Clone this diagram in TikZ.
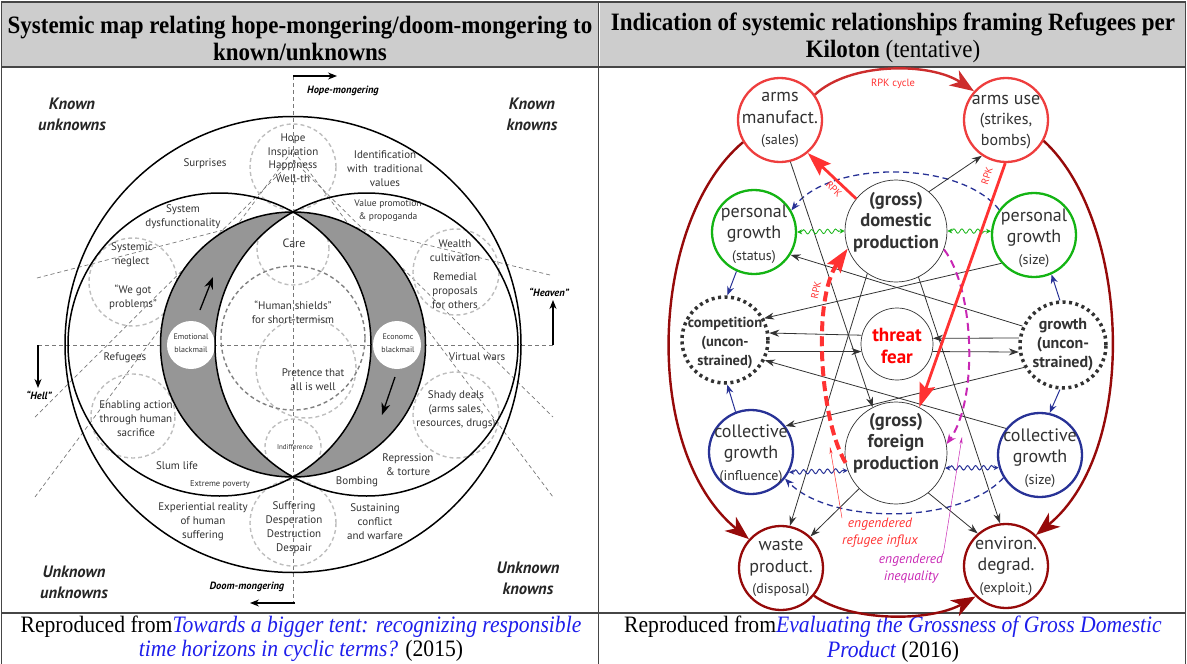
\documentclass[tikz,border=0pt]{standalone}
\usepackage{fontspec}
\setmainfont{Liberation Serif}
\newfontfamily\mapfont{PT Sans}
\newfontfamily\headfont[FakeStretch=0.92]{Liberation Serif}
\usetikzlibrary{arrows.meta}
\usetikzlibrary{decorations.pathmorphing}

\definecolor{hdrgray}{RGB}{205,205,205}
\definecolor{frameline}{RGB}{70,70,70}
\definecolor{cresgray}{RGB}{150,150,150}
\definecolor{halogray}{RGB}{190,190,190}
\definecolor{raygray}{RGB}{120,120,120}
\definecolor{inkgray}{RGB}{50,50,50}
\definecolor{armred}{RGB}{238,62,62}
\definecolor{rpkred}{RGB}{255,50,50}
\definecolor{cycred}{RGB}{205,45,45}
\definecolor{dred}{RGB}{150,10,10}
\definecolor{pgreen}{RGB}{20,180,20}
\definecolor{cblue}{RGB}{40,50,150}
\definecolor{ineqmag}{RGB}{200,40,180}
\definecolor{linkblue}{RGB}{30,30,235}

\newcommand\smtxt[1]{{\fontsize{14}{16}\selectfont #1}}

\tikzset{
% frame and headings
framerule/.style={draw=frameline, line width=1.2pt},
headtxt/.style={align=center, inner sep=0pt, font=\headfont\bfseries\fontsize{25}{27}\selectfont},
foottxt/.style={align=center, inner sep=0pt, font=\headfont\fontsize{23.5}{24.5}\selectfont},
% left map
ring/.style={draw=black, line width=1.5pt},
halo/.style={draw=halogray, line width=1.4pt, dash pattern=on 4pt off 3pt},
halodark/.style={halo, draw=gray},
ray/.style={draw=raygray, line width=0.7pt, dash pattern=on 4pt off 3pt},
pole/.style={-{Stealth[length=9pt,width=7pt]}, line width=1.1pt},
mtxt/.style={align=center, inner sep=0pt, text=inkgray, font=\mapfont\fontsize{11}{14}\selectfont},
smalltxt/.style={mtxt, font=\mapfont\fontsize{9.5}{13}\selectfont},
tinytxt/.style={mtxt, font=\mapfont\fontsize{8}{12.5}\selectfont},
corner/.style={mtxt, text=black!85, font=\mapfont\bfseries\itshape\fontsize{16.5}{21}\selectfont},
dirtxt/.style={mtxt, text=black, font=\mapfont\bfseries\itshape\fontsize{10.5}{12}\selectfont},
% right map
rnode/.style={circle, fill=white, line width=2.3pt, minimum size=84pt, inner sep=0pt},
armsn/.style={rnode, draw=armred},
persn/.style={rnode, draw=pgreen},
colln/.style={rnode, draw=cblue},
endn/.style={rnode, draw=dred},
prodn/.style={rnode, draw=inkgray, line width=0.7pt, minimum size=102pt},
fearn/.style={rnode, draw=inkgray, line width=0.7pt, minimum size=72pt},
uncn/.style={rnode, draw=inkgray, line width=3.5pt, dash pattern=on 3pt off 3.5pt, minimum size=86pt},
ntxt/.style={align=center, inner sep=0pt, text=inkgray, font=\mapfont\fontsize{18}{21.5}\selectfont},
btxt/.style={ntxt, font=\mapfont\bfseries\fontsize{18.5}{21.5}\selectfont},
fear/.style={ntxt, text=red, font=\mapfont\bfseries\fontsize{19}{22}\selectfont},
utxt/.style={ntxt, font=\mapfont\bfseries\fontsize{14.5}{19}\selectfont},
rpktxt/.style={inner sep=0pt, text=rpkred, font=\mapfont\fontsize{10}{12}\selectfont},
infltxt/.style={align=center, inner sep=0pt, text=rpkred, font=\mapfont\itshape\fontsize{13.5}{17}\selectfont},
ineqtxt/.style={infltxt, text=ineqmag},
flow/.style={-{Stealth[length=10pt,width=7pt]}, draw=inkgray, line width=0.8pt},
bflow/.style={-{Stealth[length=9pt,width=7pt]}, draw=cblue, line width=1pt},
gwave/.style={{Stealth[length=5pt,width=5pt]}-{Stealth[length=5pt,width=5pt]}, draw=pgreen, line width=0.8pt,
  decorate, decoration={snake, amplitude=2.2pt, segment length=8pt, pre length=4pt, post length=4pt}},
bwave/.style={gwave, draw=cblue, line width=1pt},
rpkflow/.style={-{Stealth[length=24pt,width=16pt,inset=4pt]}, draw=rpkred, line width=2.8pt},
rpkdash/.style={rpkflow, line width=4pt, dash pattern=on 10pt off 5pt},
magdash/.style={-{Stealth[length=10pt,width=8pt]}, draw=ineqmag, line width=2pt, dash pattern=on 8pt off 5pt},
thinred/.style={-{Stealth[length=7pt,width=3pt]}, draw=rpkred, line width=0.5pt},
thinmag/.style={thinred, draw=ineqmag},
cyc/.style={-{Stealth[length=24pt,width=18pt,inset=7pt]}, draw=dred, line width=2.4pt},
bdash/.style={-{Stealth[length=9pt,width=7pt]}, draw=cblue, line width=1.3pt, dash pattern=on 6pt off 4pt}
}

\begin{document}
\begin{tikzpicture}[x=1pt,y=1pt]
\useasboundingbox (0,0) rectangle (1187,-664);

% table frame
\fill[hdrgray] (2,-3) rectangle (597.5,-66.5);
\fill[hdrgray] (599.5,-3) rectangle (1185,-66.5);
\draw[framerule] (1.5,-664) -- (1.5,-2) -- (1185.5,-2) -- (1185.5,-664);
\draw[framerule] (598.5,-2) -- (598.5,-664);
\draw[framerule] (1.5,-67) -- (1185.5,-67);
\draw[framerule] (1.5,-613) -- (1185.5,-613);

\node[headtxt] (ltitle) at (300,-38) {Systemic map relating hope-mongering/doom-mongering to\\known/unknowns};
\node[headtxt] (rtitle) at (893,-38) {Indication of systemic relationships framing Refugees per\\Kiloton \mdseries(tentative)};

\node[foottxt] (lfoot) at (301,-639) {Reproduced from\textcolor{linkblue}{\itshape Towards a bigger tent: recognizing responsible}\\\textcolor{linkblue}{\itshape time horizons in cyclic terms?} (2015)};
\node[foottxt] (rfoot) at (893,-639) {Reproduced from\textcolor{linkblue}{\itshape Evaluating the Grossness of Gross Domestic}\\\textcolor{linkblue}{\itshape Product} (2016)};

% ---------- left map ----------
\draw[ray] (293,-76) -- (293,-603);
\draw[ray] (38,-345) -- (553,-345);
\draw[ray] (37,-278) -- (293,-212) -- (550,-275);
\draw[ray] (35,-417) -- (293,-160) -- (553,-417);
\draw[ray] (35,-497) -- (293,-150) -- (553,-497);

\draw[halo] (293,-167) circle (43);
\draw[halo] (293,-249) circle (36);
\draw[halo] (133,-282) circle (44);
\draw[halo] (456,-272) circle (43);
\draw[halo] (133,-416) circle (42);
\draw[halo] (456,-415) circle (43);
\draw[halo] (306,-368) circle (50);
\draw[halo] (293,-447) circle (28);
\draw[halo] (293,-523) circle (43);
\draw[halodark] (293,-338) circle (72);

% crescents
\fill[cresgray, even odd rule] (293,-344.5) circle (132.5)
  (293,-212) arc[start angle=119, end angle=241, radius=151.5]
  arc[start angle=-61, end angle=61, radius=151.5] -- cycle;
\fill[white] (191,-345) circle (24);
\fill[white] (397,-345) circle (24);

\draw[ring] (293,-344.5) circle (228);
\draw[ring] (219.5,-344.5) circle (151.5);
\draw[ring] (366.5,-344.5) circle (151.5);
\draw[ring] (293,-344.5) circle (132.5);

\draw[pole, line width=1.3pt, -{Stealth[length=12pt,width=9pt]}] (200,-310) -- (213,-277);
\draw[pole, line width=1.3pt, -{Stealth[length=12pt,width=9pt]}] (395,-377) -- (382,-415);
\draw[pole] (293,-76) -- (337,-76);
\draw[pole] (295,-603) -- (250,-603);
\draw[pole] (38,-345) -- (38,-388);
\draw[pole] (553,-345) -- (553,-300);

\node[dirtxt] (hopem) at (343,-91) {Hope-mongering};
\node[dirtxt] (doomm) at (247,-587) {Doom-mongering};
\node[dirtxt] (heaven) at (549,-292) {“Heaven”};
\node[dirtxt] (hell) at (39,-395) {“Hell”};
\node[corner] (kuu) at (72,-114) {Known\\unknowns};
\node[corner] (kk) at (532,-114) {Known\\knowns};
\node[corner] (uu) at (74,-582) {Unknown\\unknowns};
\node[corner] (uk) at (528,-578) {Unknown\\knowns};

\node[mtxt] (surp) at (205,-164) {Surprises};
\node[mtxt, font=\mapfont\fontsize{11}{13.5}\selectfont] (hope) at (293,-158) {Hope\\Inspiration\\Happiness\\Well-th};
\node[mtxt] (ident) at (385,-169) {Identification\\with\ \ traditional\\values};
\node[mtxt] (sysd) at (183,-217) {System\\dysfunctionality};
\node[smalltxt] (valp) at (388,-211) {Value promotion\\\& propoganda};
\node[mtxt, font=\mapfont\fontsize{12}{14}\selectfont] (care) at (294,-243) {Care};
\node[mtxt] (sysn) at (132,-255) {Systemic\\neglect};
\node[mtxt] (wgp) at (133,-297) {“We got\\problems”};
\node[mtxt] (wealth) at (455,-251) {Wealth\\cultivation};
\node[mtxt] (remed) at (455,-291) {Remedial\\proposals\\for others};
\node[mtxt] (hshield) at (293,-312) {“Human shields”\\for short-termism};
\node[tinytxt] (emot) at (191,-343) {Emotional\\blackmail};
\node[tinytxt] (econ) at (398,-343) {Economc\\blackmail};
\node[mtxt] (refug) at (125,-358) {Refugees};
\node[mtxt] (virt) at (477,-357) {Virtual wars};
\node[mtxt] (pret) at (313,-380) {Pretence that\\all is well};
\node[mtxt, font=\mapfont\fontsize{7}{9}\selectfont] (indiff) at (295,-447) {Indifference};
\node[mtxt] (enab) at (136,-419) {Enabling action\\through human\\sacrifice};
\node[mtxt] (shady) at (456,-410) {Shady deals\\(arms sales,\\resources, drugs)};
\node[mtxt] (slum) at (177,-466) {Slum life};
\node[mtxt] (repr) at (408,-465) {Repression\\\& torture};
\node[tinytxt, font=\mapfont\fontsize{8.5}{11}\selectfont] (extp) at (220,-484) {Extreme poverty};
\node[mtxt] (bomb) at (357,-482) {Bombing};
\node[mtxt] (expr) at (203,-522) {Experiential reality\\of human\\suffering};
\node[mtxt] (suff) at (294,-528) {Suffering\\Desperation\\Destruction\\Despair};
\node[mtxt] (sust) at (375,-522) {Sustaining\\conflict\\and warfare};

% ---------- right map ----------
\node[armsn, label={[ntxt]center:{arms\\manufact.\\\smtxt{(sales)}}}] (am) at (780,-120) {};
\node[armsn, label={[ntxt, yshift=-2pt, font=\mapfont\fontsize{18}{20.5}\selectfont]center:{arms use\\{\fontsize{16}{18}\selectfont(strikes,}\\{\fontsize{16}{18}\selectfont bombs)}}}] (au) at (1006,-120) {};
\node[persn, label={[ntxt, yshift=-2pt]center:{personal\\growth\\\smtxt{(status)}}}] (pgs) at (754,-232) {};
\node[persn, label={[ntxt, yshift=-3pt]center:{personal\\growth\\\smtxt{(size)}}}] (pgz) at (1034,-235) {};
\node[prodn, label={[btxt, yshift=9pt]center:{(gross)\\domestic\\production}}] (dom) at (896,-231) {};
\node[fearn, label={[fear, yshift=-2pt]center:{threat\\fear}}] (thr) at (897,-344) {};
\node[prodn, label={[btxt, yshift=10pt]center:{(gross)\\foreign\\production}}] (forn) at (896,-453) {};
\node[uncn, label={[utxt, yshift=-3pt]center:{competition\\(uncon-\\strained)}}] (comp) at (725,-340) {};
\node[uncn, label={[utxt, font=\mapfont\bfseries\fontsize{16}{19}\selectfont]center:{growth\\(uncon-\\strained)}}] (grow) at (1063,-345) {};
\node[colln, label={[ntxt, yshift=-2pt]center:{collective\\growth\\\smtxt{(influence)}}}] (cgi) at (751,-452) {};
\node[colln, label={[ntxt, yshift=-3pt]center:{collective\\growth\\\smtxt{(size)}}}] (cgz) at (1040,-455) {};
\node[endn, label={[ntxt]center:{waste\\product.\\\smtxt{(disposal)}}}] (waste) at (781,-568) {};
\node[endn, label={[ntxt]center:{environ.\\degrad.\\\smtxt{(exploit.)}}}] (env) at (1006,-566) {};

% cycles
\draw[cyc, draw=cycred] (am.36) .. controls (850,-62) and (930,-62) .. (au.138);
\draw[cyc] (am.211) .. controls (650,-220) and (640,-450) .. (waste.138);
\draw[cyc] (au.-29) .. controls (1130,-220) and (1140,-450) .. (env.46);
\draw[cyc] (waste.-40) .. controls (850,-622) and (930,-622) .. (env.225);
\node[rpktxt, font=\mapfont\fontsize{10.5}{12}\selectfont] (rpkcyc) at (893,-84) {RPK cycle};

% dashed influence arcs
\draw[bdash] (pgz.144) .. controls (960,-160) and (830,-160) .. (pgs.30);
\draw[bdash] (cgz.212) .. controls (960,-525) and (830,-525) .. (cgi.-38);

% plain flows
\draw[flow] (dom.50) -- (au.236);
\draw[flow] (am.-76) -- (forn.117);
\draw[flow] (dom.-124) -- (waste.78);
\draw[flow] (dom.-64) -- (env.98);
\draw[flow] (grow.155) -- (pgs.-32);
\draw[flow] (pgz.-139) -- (comp.29);
\draw[flow] (thr.166) -- (comp.9);
\draw[flow] (comp.-15) -- (thr.192);
\draw[flow] (thr.-12) -- (grow.189);
\draw[flow] (grow.171) -- (thr.9);
\draw[flow] (cgz.142) -- (comp.-27);
\draw[flow] (grow.210) -- (cgi.37);
\draw[flow] (forn.-136) -- (waste.47);
\draw[flow] (forn.-51) -- (env.131);

\draw[bflow] (pgs.-114) -- (comp.87);
\draw[bflow] (grow.94) -- (pgz.-66);
\draw[bflow] (cgi.111) -- (comp.-87);
\draw[bflow] (grow.-94) -- (cgz.77);

\draw[gwave] (pgs.0) -- (dom.180);
\draw[gwave] (dom.0) -- (pgz.175);
\draw[bwave] (cgi.-28) -- (forn.200);
\draw[bwave] (forn.-17) -- (cgz.197);

% RPK
\draw[magdash] (dom.-21) .. controls (975,-290) and (978,-400) .. (forn.10);
\draw[rpkdash] (forn.191) .. controls (820,-420) and (812,-300) .. (dom.200);
\draw[rpkflow] (dom.141) -- (am.-50);
\draw[rpkflow] (au.-91) -- (forn.63);
\node[rpktxt, rotate=-45] (rpka) at (834,-189) {RPK};
\node[rpktxt, rotate=72] (rpkb) at (987,-176) {RPK};
\node[rpktxt, rotate=78] (rpkc) at (816,-290) {RPK};

\node[infltxt] (infl) at (880,-533) {engendered\\refugee influx};
\node[ineqtxt] (ineq) at (911,-569) {engendered\\inequality};
\coordinate (inflpt) at (830,-447);
\coordinate (ineqpt) at (962,-437);
\draw[thinred] (infl.north west) -- (inflpt);
\draw[thinmag] (ineq.north east) -- (ineqpt);
\end{tikzpicture}
\end{document}
